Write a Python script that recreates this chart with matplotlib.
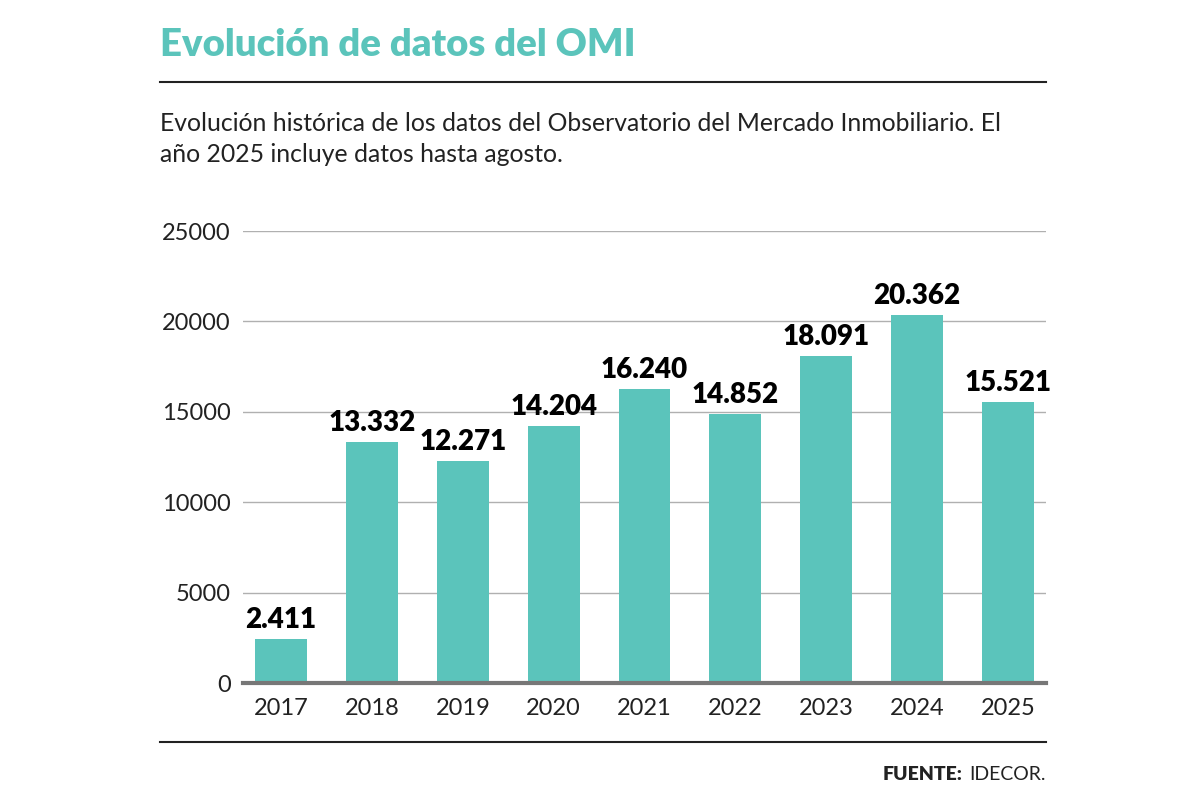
import matplotlib.pyplot as plt

years = ['2017', '2018', '2019', '2020', '2021', '2022', '2023', '2024', '2025']
datos = [2411, 13332, 12271, 14204, 16240, 14852, 18091, 20362, 15521]
etiquetas = ['2.411', '13.332', '12.271', '14.204', '16.240', '14.852', '18.091', '20.362', '15.521']
yticks = [0, 5000, 10000, 15000, 20000, 25000]

teal = '#5bc4bb'

fig = plt.figure(figsize=(12, 8), dpi=100)
ax = fig.add_axes([243 / 1200, 1 - 683 / 800, (1046 - 243) / 1200, (683 - 231) / 800])

x = range(len(years))
ax.bar(x, datos, width=0.57, color=teal, zorder=2)
for i, v in enumerate(datos):
    ax.text(i, v + 350, etiquetas[i], ha='center', va='bottom', fontsize=20,
            fontweight='heavy', family='Lato', color='black', zorder=3)

ax.set_xlim(-0.42, 8.42)
ax.set_ylim(0, 25000)
ax.set_yticks(yticks)
ax.set_yticklabels([str(t) for t in yticks])
ax.set_xticks(list(x))
ax.set_xticklabels(years)
ax.tick_params(axis='both', length=0, labelsize=17, colors='#222222')
ax.tick_params(axis='y', pad=9)
ax.tick_params(axis='x', pad=11)
for lab in ax.get_xticklabels() + ax.get_yticklabels():
    lab.set_family('Lato')

ax.grid(axis='y', color='#b0b0b0', linewidth=1, zorder=0)
for s in ['top', 'right', 'left']:
    ax.spines[s].set_visible(False)
ax.spines['bottom'].set_color('#777777')
ax.spines['bottom'].set_linewidth(3)
ax.spines['bottom'].set_zorder(4)

# titulo y textos
fig.text(160 / 1200, 1 - 45 / 800, 'Evolución de datos del OMI', fontsize=27.5,
         fontweight='heavy', family='Lato', color=teal, va='center', ha='left')
fig.add_artist(plt.Line2D([160 / 1200, 1046 / 1200], [1 - 82 / 800, 1 - 82 / 800],
                          color='#222222', linewidth=1.5))
fig.text(160 / 1200, 1 - 139 / 800,
         'Evolución histórica de los datos del Observatorio del Mercado Inmobiliario. El\naño 2025 incluye datos hasta agosto.',
         fontsize=17.8, family='Lato', color='#222222', va='center', ha='left', linespacing=1.4)
fig.add_artist(plt.Line2D([160 / 1200, 1046 / 1200], [1 - 742 / 800, 1 - 742 / 800],
                          color='#222222', linewidth=1.5))
fig.text(1046 / 1200, 1 - 775 / 800, 'IDECOR.', fontsize=14, family='Lato',
         color='#222222', va='center', ha='right')
fig.text(963 / 1200, 1 - 775 / 800, 'FUENTE:', fontsize=14, fontweight='heavy',
         family='Lato', color='#222222', va='center', ha='right')

fig.savefig('out.png', dpi=100)
